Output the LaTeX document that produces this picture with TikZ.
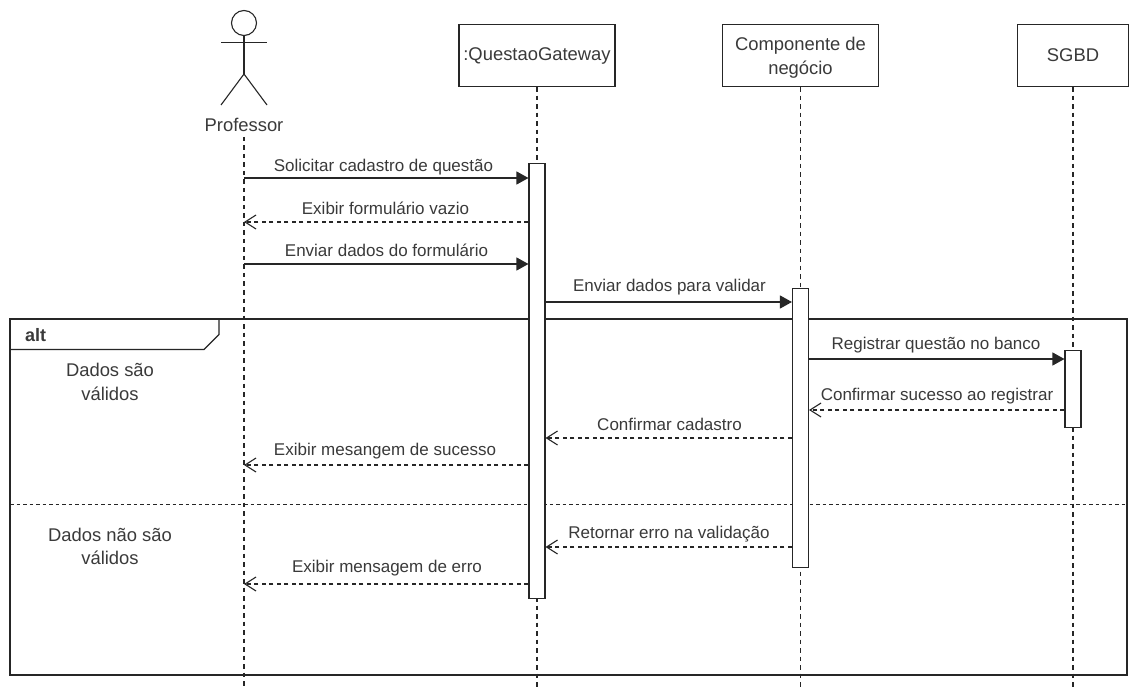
\documentclass[tikz,border=0pt]{standalone}
\usepackage{fontspec}
\setmainfont{Liberation Sans}
\usetikzlibrary{arrows.meta,calc}
\definecolor{ln}{HTML}{262626}
\definecolor{tx}{HTML}{3A3A3A}
\tikzset{
  x=1pt,y=-1pt,
  every node/.style={font=\fontsize{18.4}{23.5}\selectfont,text=tx,inner sep=0pt,align=center},
  line/.style={draw=ln,line width=1.1pt},
  objbox/.style={line,fill=white,minimum height=62pt,anchor=north},
  actbar/.style={line,fill=white,minimum width=16pt,anchor=north},
  life/.style={line,dash pattern=on 4.5pt off 4pt},
  call/.style={line,-{Triangle[length=12pt,width=13pt,fill=ln]}},
  reply/.style={line,dash pattern=on 4pt off 3.5pt,-{Straight Barb[length=11pt,width=14pt,line width=1.1pt]}},
  msg/.style={anchor=center,font=\fontsize{17}{20}\selectfont},
}
\begin{document}
\begin{tikzpicture}
\useasboundingbox (0,0) rectangle (1141,687);
\fill[white] (0,0) rectangle (1141,687);
% frame
\draw[line] (10,319) rectangle (1127,675);
\draw[line] (10,349.5) -- (204,349.5) -- (219,334.5) -- (219,319);
\node[anchor=west,font=\fontsize{18}{22}\selectfont\bfseries] (alt) at (25,335) {alt};
\node (cond1) at (110,382) {Dados são\\válidos};
\node (cond2) at (110,546.5) {Dados não são\\válidos};
\coordinate (divL) at (10,504);
\coordinate (divR) at (1127,504);
\draw[line,line width=1pt,dash pattern=on 3.5pt off 3pt] (divL) -- (divR);
% actor
\node[line,circle,minimum size=25pt] (head) at (244,23) {};
\coordinate (neck) at (244,74);
\coordinate (armL) at (221,42.5);
\coordinate (armR) at (267,42.5);
\coordinate (legL) at (221,105);
\coordinate (legR) at (267,105);
\draw[line] (head.south) -- (neck);
\draw[line] (armL) -- (armR);
\draw[line] (legL) -- (neck) -- (legR);
\node (prof) at (244,125) {Professor};
% objects
\node[objbox,minimum width=156pt] (gw) at (537,24) {:QuestaoGateway};
\node[objbox,minimum width=156pt] (comp) at (800.5,24) {\rule{0pt}{17.5pt}Componente de\\negócio};
\node[objbox,minimum width=111pt] (db) at (1073,24) {SGBD};
% lifelines
\coordinate (profEnd) at (244,687);
\coordinate (gwEnd) at (537,687);
\coordinate (compEnd) at (800.5,687);
\coordinate (dbEnd) at (1073,687);
\draw[life] (244,137) -- (profEnd);
\coordinate (profTop) at (244,137);
\draw[life] (gw.south) -- (gwEnd);
\draw[life] (comp.south) -- (compEnd);
\draw[life] (db.south) -- (dbEnd);
% activations
\node[actbar,minimum height=435pt] (gwA) at (537,163) {};
\node[actbar,minimum height=279pt] (compA) at (800.5,288) {};
\node[actbar,minimum height=77pt] (dbA) at (1073,350) {};
% messages
\draw[call] (profTop |- 0,178) -- (gwA.west |- 0,178);
\node[msg] (m1) at (383.5,167) {Solicitar cadastro de questão};
\draw[reply] (gwA.west |- 0,222) -- (profTop |- 0,222);
\node[msg] (m2) at (385.5,208) {Exibir formulário vazio};
\draw[call] (profTop |- 0,264) -- (gwA.west |- 0,264);
\node[msg] (m3) at (386.5,250) {Enviar dados do formulário};
\draw[call] (gwA.east |- 0,302) -- (compA.west |- 0,302);
\node[msg] (m4) at (669.5,287) {Enviar dados para validar};
\draw[call] (compA.east |- 0,359) -- (dbA.west |- 0,359);
\node[msg] (m5) at (936,345) {Registrar questão no banco};
\draw[reply] (dbA.west |- 0,410) -- (compA.east |- 0,410);
\node[msg] (m6) at (937,396) {Confirmar sucesso ao registrar};
\draw[reply] (compA.west |- 0,438) -- (gwA.east |- 0,438);
\node[msg] (m7) at (669.5,424) {Confirmar cadastro};
\draw[reply] (gwA.west |- 0,465) -- (profTop |- 0,465);
\node[msg] (m8) at (385,451) {Exibir mesangem de sucesso};
\draw[reply] (compA.west |- 0,547) -- (gwA.east |- 0,547);
\node[msg] (m9) at (669,534) {Retornar erro na validação};
\draw[reply] (gwA.west |- 0,584) -- (profTop |- 0,584);
\node[msg] (m10) at (387,568) {Exibir mensagem de erro};
\end{tikzpicture}
\end{document}
